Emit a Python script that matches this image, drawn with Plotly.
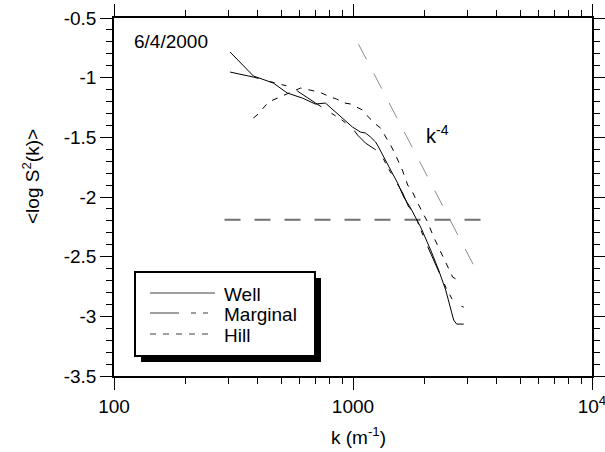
import plotly.graph_objects as go
import numpy as np

# ---- data ----
well_k = [306, 383, 464, 531, 614, 696, 767, 845, 995, 1075, 1128, 1184, 1243, 1279, 1343,
          1437, 1537, 1630, 1743, 1919, 2114, 2282, 2443, 2563, 2637, 2716, 2905]
well_y = [-0.785, -0.986, -1.045, -1.129, -1.171, -1.221, -1.213, -1.288, -1.414, -1.456,
          -1.464, -1.497, -1.539, -1.581, -1.665, -1.774, -1.883, -2.00, -2.093, -2.252,
          -2.445, -2.612, -2.78, -2.948, -3.031, -3.065, -3.065]

marg_k = [306, 383, 473, 552, 696, 887, 995, 1045, 1128, 1218, 1304, 1395, 1479, 1614,
          1710, 1795, 2014, 2260, 2443, 2612, 2766, 2905]
marg_y = [-0.953, -0.995, -1.045, -1.078, -1.212, -1.347, -1.422, -1.481, -1.548, -1.590,
          -1.632, -1.749, -1.841, -1.967, -2.084, -2.126, -2.378, -2.612, -2.755, -2.864,
          -2.906, -2.923]

hill_k = [383, 401, 443, 473, 603, 690, 738, 805, 853, 921, 977, 1096, 1128, 1243, 1304,
          1395, 1437, 1507, 1614, 1694, 1775, 1883, 2052, 2176, 2328, 2489, 2612, 2740]
hill_y = [-1.338, -1.305, -1.204, -1.179, -1.087, -1.112, -1.129, -1.162, -1.179, -1.212,
          -1.221, -1.271, -1.305, -1.389, -1.422, -1.523, -1.565, -1.648, -1.782, -1.90,
          -1.959, -2.067, -2.21, -2.336, -2.461, -2.596, -2.671, -2.696]

slope_k = [1055, 3330]
slope_y = [-0.72, -2.64]

level_k = [290, 3525]
level_y = [-2.19, -2.19]

x_tickvals = [100, 1000, 10000]
x_ticktext = ["100", "1000", "10<sup>4</sup>"]
x_minor = [200, 300, 400, 500, 600, 700, 800, 900,
           2000, 3000, 4000, 5000, 6000, 7000, 8000, 9000]
y_tickvals = [-0.5, -1, -1.5, -2, -2.5, -3, -3.5]
y_ticktext = ["-0.5", "-1", "-1.5", "-2", "-2.5", "-3", "-3.5"]
y_minor = [round(v, 2) for v in np.arange(-3.5, -0.45, 0.1)]

series_names = ["Well", "Marginal", "Hill"]

FONT = "Liberation Sans, Arial, sans-serif"
FS = 19

DASH_MARG = "29px,12px,5px,7px,5px,12px"
DASH_HILL = "6px,7px"

fig = go.Figure()

fig.add_trace(go.Scatter(x=slope_k, y=slope_y, mode="lines",
                         line=dict(color="#8c8c8c", width=1, dash="17px,16px"),
                         showlegend=False, hoverinfo="skip"))
fig.add_trace(go.Scatter(x=level_k, y=level_y, mode="lines",
                         line=dict(color="#707070", width=2, dash="16px,14px"),
                         showlegend=False, hoverinfo="skip"))
fig.add_trace(go.Scatter(x=well_k, y=well_y, mode="lines", name=series_names[0],
                         line=dict(color="black", width=1), showlegend=False))
fig.add_trace(go.Scatter(x=marg_k, y=marg_y, mode="lines", name=series_names[1],
                         line=dict(color="black", width=1, dash=DASH_MARG), showlegend=False))
fig.add_trace(go.Scatter(x=hill_k, y=hill_y, mode="lines", name=series_names[2],
                         line=dict(color="black", width=1, dash=DASH_HILL), showlegend=False))

# plot area in pixels: x 114-592, y 18-376
L, R, T, B = 114, 592, 18, 376
W, H = R - L, B - T


def px(x):
    return (x - L) / W


def py(y):
    return (B - y) / H


shapes = []
shapes.append(dict(type="rect", xref="paper", yref="paper",
                   x0=px(141), x1=px(321), y0=py(362), y1=py(278),
                   fillcolor="black", line=dict(width=0), layer="above"))
shapes.append(dict(type="rect", xref="paper", yref="paper",
                   x0=px(135), x1=px(315), y0=py(356), y1=py(272),
                   fillcolor="white", line=dict(color="black", width=2), layer="above"))
rows = [293, 313, 334]
dashes = ["solid", DASH_MARG, DASH_HILL]
for r, d in zip(rows, dashes):
    shapes.append(dict(type="line", xref="paper", yref="paper",
                       x0=px(150), x1=px(215), y0=py(r), y1=py(r),
                       line=dict(color="#404040", width=1.2, dash=d), layer="above"))

annotations = []
for r, name in zip(rows, series_names):
    annotations.append(dict(xref="paper", yref="paper", x=px(222), y=py(r + 1),
                            text=name, showarrow=False, xanchor="left", yanchor="middle",
                            font=dict(family=FONT, size=FS, color="black")))
annotations.append(dict(xref="paper", yref="paper", x=px(132), y=py(41),
                        text="6/4/2000", showarrow=False, xanchor="left", yanchor="middle",
                        font=dict(family=FONT, size=FS, color="black")))
annotations.append(dict(xref="paper", yref="paper", x=px(424), y=py(134),
                        text="k<sup>-4</sup>", showarrow=False, xanchor="left", yanchor="middle",
                        font=dict(family=FONT, size=FS + 1, color="black")))
annotations.append(dict(xref="paper", yref="paper", x=px(358), y=py(436),
                        text="k (m<sup>-1</sup>)", showarrow=False, xanchor="center",
                        yanchor="middle", font=dict(family=FONT, size=FS, color="black")))
annotations.append(dict(xref="paper", yref="paper", x=px(31), y=py(177),
                        text="&lt;log S<sup>2</sup>(k)&gt;", showarrow=False, textangle=-90,
                        xanchor="center", yanchor="middle",
                        font=dict(family=FONT, size=FS, color="black")))

axis_common = dict(showgrid=False, zeroline=False, showline=True, linecolor="black",
                   linewidth=1.5, ticks="outside", ticklen=12, tickwidth=1.2,
                   tickcolor="black", mirror="allticks", automargin=False,
                   ticklabeloverflow="allow",
                   tickfont=dict(family=FONT, size=FS, color="black"))

fig.update_layout(
    width=605, height=452,
    margin=dict(l=L, r=605 - R, t=T, b=452 - B, autoexpand=False),
    paper_bgcolor="white", plot_bgcolor="white",
    font=dict(family=FONT, size=FS, color="black"),
    showlegend=False,
    xaxis=dict(type="log", range=[2, 4], tickmode="array", tickvals=x_tickvals,
               ticktext=x_ticktext,
               minor=dict(tickmode="array", tickvals=x_minor, ticks="outside", ticklen=6,
                          tickwidth=1.2, tickcolor="black", showgrid=False),
               **axis_common),
    yaxis=dict(range=[-3.5, -0.5], tickmode="array", tickvals=y_tickvals,
               ticktext=y_ticktext,
               minor=dict(tickmode="array", tickvals=y_minor, ticks="outside", ticklen=6,
                          tickwidth=1.2, tickcolor="black", showgrid=False),
               **axis_common),
    shapes=shapes,
    annotations=annotations,
)

fig.write_html("out.html")
